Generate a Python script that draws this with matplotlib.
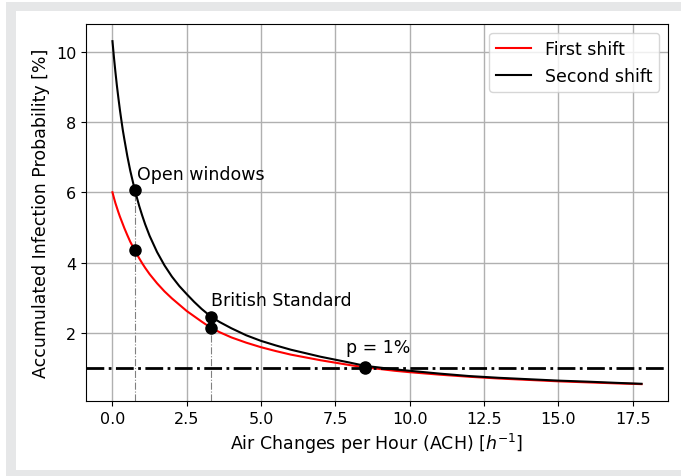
import matplotlib
matplotlib.use("Agg")
import matplotlib.pyplot as plt
from matplotlib.patches import Rectangle

# Data
ach = [0.0, 0.05, 0.1, 0.15, 0.2, 0.25, 0.3, 0.35, 0.4, 0.5, 0.6, 0.75, 0.9,
       1.0, 1.1, 1.25, 1.5, 1.75, 2.0, 2.25, 2.5, 2.75, 3.0, 3.3, 3.6, 4.0,
       4.5, 5.0, 5.5, 6.0, 7.0, 8.0, 8.5, 9.0, 9.5, 10.0, 11.0, 12.0, 13.0,
       14.0, 15.0, 16.0, 17.0, 17.8]
first_shift = [6.0, 5.84, 5.69, 5.56, 5.43, 5.31, 5.2, 5.09, 4.98, 4.78, 4.59,
               4.35, 4.12, 3.98, 3.85, 3.67, 3.41, 3.18, 2.98, 2.8, 2.62, 2.47,
               2.32, 2.15, 2.02, 1.87, 1.72, 1.59, 1.48, 1.38, 1.22, 1.08, 1.02,
               0.97, 0.92, 0.88, 0.81, 0.75, 0.70, 0.66, 0.62, 0.59, 0.56, 0.54]
second_shift = [10.3, 9.84, 9.42, 9.03, 8.68, 8.35, 8.05, 7.76, 7.51, 7.03,
                6.61, 6.07, 5.61, 5.34, 5.09, 4.76, 4.3, 3.92, 3.6, 3.33, 3.1,
                2.88, 2.68, 2.47, 2.31, 2.13, 1.93, 1.77, 1.64, 1.52, 1.32, 1.15,
                1.06, 1.01, 0.96, 0.92, 0.84, 0.77, 0.72, 0.68, 0.64, 0.61, 0.575,
                0.55]

marker_ach = [0.75, 3.3, 8.5]
marker_first = [4.36, 2.15, 1.01]
marker_second = [6.07, 2.45, 1.04]
marker_labels = ["Open windows", "British Standard", "p = 1%"]
label_pos = [(0.82, 6.27), (3.3, 2.68), (7.85, 1.34)]
threshold = 1.0

W, H = 681, 477
fig = plt.figure(figsize=(W / 100, H / 100), dpi=100)
fig.patch.set_facecolor("white")
fig.patches.append(Rectangle((6 / W, 0), 1, 1 - 3 / H, transform=fig.transFigure,
                             facecolor="#e6e7e8", edgecolor="none", zorder=-10))
fig.patches.append(Rectangle((16 / W, 6 / H), 1, 1 - 18 / H, transform=fig.transFigure,
                             facecolor="white", edgecolor="none", zorder=-9))

ax = fig.add_axes([86 / W, 75 / H, (668 - 86) / W, (402 - 25.3) / H])

ax.plot(ach, first_shift, color="red", lw=1.5, label="First shift")
ax.plot(ach, second_shift, color="black", lw=1.5, label="Second shift")
ax.axhline(threshold, color="black", ls="-.", lw=2)

ymin = 0.06
for x, yb in zip(marker_ach[:2], marker_second[:2]):
    ax.plot([x, x], [ymin, yb], color="gray", ls="-.", lw=0.8, zorder=1)

ax.plot(marker_ach, marker_first, "o", color="black", ms=8, zorder=5)
ax.plot(marker_ach, marker_second, "o", color="black", ms=8, zorder=5)
for lab, (lx, ly) in zip(marker_labels, label_pos):
    ax.text(lx, ly, lab, fontsize=12.5, ha="left", va="bottom")

ax.set_xlim(-0.89, 18.69)
ax.set_ylim(ymin, 10.78)
ax.set_xticks([0, 2.5, 5, 7.5, 10, 12.5, 15, 17.5])
ax.set_yticks([2, 4, 6, 8, 10])
ax.tick_params(labelsize=11.5)
ax.grid(True, color="#b0b0b0", lw=1)
ax.set_axisbelow(True)
ax.set_xlabel("Air Changes per Hour (ACH) [$h^{-1}$]", fontsize=12.5)
ax.set_ylabel("Accumulated Infection Probability [%]", fontsize=12.5)
ax.legend(loc="upper right", fontsize=12.5)

fig.savefig("out.png", dpi=100)
